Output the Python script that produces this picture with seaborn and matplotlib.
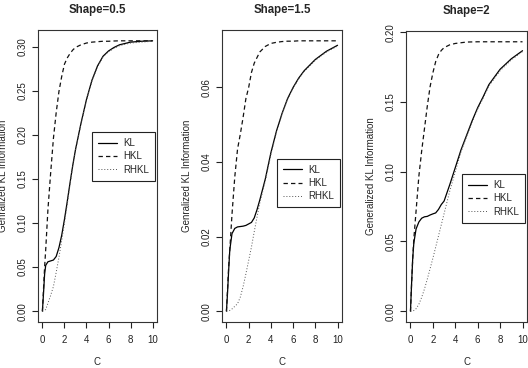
import pandas as pd
import seaborn as sns
import matplotlib.pyplot as plt

# values
c_grid = [0, 0.1, 0.2, 0.3, 0.5, 0.75, 1, 1.25, 1.5, 1.75, 2, 2.25, 2.5, 2.75,
          3, 3.5, 4, 4.5, 5, 5.5, 6, 6.5, 7, 8, 9, 10]

kl_05 = [0, 0.020, 0.042, 0.052, 0.056, 0.057, 0.058, 0.062, 0.072, 0.086, 0.104,
         0.124, 0.145, 0.165, 0.183, 0.213, 0.240, 0.262, 0.278, 0.289, 0.295,
         0.299, 0.302, 0.305, 0.306, 0.3065]
hkl_05 = [0, 0.025, 0.050, 0.070, 0.115, 0.157, 0.196, 0.225, 0.249, 0.266, 0.280,
          0.287, 0.292, 0.296, 0.299, 0.302, 0.304, 0.305, 0.3055, 0.306, 0.306,
          0.3063, 0.3065, 0.3065, 0.3065, 0.3065]
rhkl_05 = [0, 0.0003, 0.001, 0.002, 0.009, 0.018, 0.028, 0.044, 0.061, 0.080, 0.100,
           0.121, 0.143, 0.164, 0.182, 0.212, 0.239, 0.261, 0.277, 0.288, 0.294,
           0.298, 0.301, 0.304, 0.305, 0.306]

kl_15 = [0, 0.005, 0.011, 0.0164, 0.0208, 0.0222, 0.0226, 0.0227, 0.0228, 0.0230,
         0.0234, 0.0238, 0.0250, 0.0272, 0.0298, 0.0355, 0.0425, 0.0483, 0.0530,
         0.0570, 0.0600, 0.0625, 0.0645, 0.0675, 0.0697, 0.0713]
hkl_15 = [0, 0.006, 0.012, 0.0164, 0.026, 0.036, 0.0435, 0.0475, 0.052, 0.057,
          0.060, 0.064, 0.0665, 0.068, 0.0695, 0.071, 0.0718, 0.0721, 0.0723,
          0.0724, 0.0724, 0.0725, 0.0725, 0.0725, 0.0725, 0.0725]
rhkl_15 = [0, 0, 0.0001, 0.0002, 0.0006, 0.0013, 0.002, 0.0038, 0.0066, 0.0100,
           0.0136, 0.0172, 0.0213, 0.0252, 0.0290, 0.0350, 0.0420, 0.0480, 0.0528,
           0.0568, 0.0598, 0.0623, 0.0643, 0.0673, 0.0695, 0.0711]

kl_2 = [0, 0.020, 0.038, 0.049, 0.059, 0.064, 0.0667, 0.0677, 0.068, 0.069, 0.0698,
        0.0705, 0.073, 0.0765, 0.079, 0.0906, 0.103, 0.1155, 0.126, 0.1365, 0.146,
        0.154, 0.1625, 0.1735, 0.181, 0.1868]
hkl_2 = [0, 0.020, 0.038, 0.052, 0.072, 0.097, 0.115, 0.131, 0.147, 0.161, 0.171,
         0.179, 0.184, 0.187, 0.189, 0.191, 0.192, 0.1925, 0.193, 0.1931, 0.1932,
         0.1932, 0.1932, 0.1932, 0.1932, 0.1932]
rhkl_2 = [0, 0, 0.0002, 0.0005, 0.0018, 0.005, 0.010, 0.016, 0.023, 0.0305, 0.038,
          0.046, 0.054, 0.062, 0.070, 0.086, 0.100, 0.114, 0.125, 0.1355, 0.145,
          0.153, 0.1615, 0.1725, 0.1802, 0.1862]

titles = ["Shape=0.5", "Shape=1.5", "Shape=2"]
ylabels = ["Genralized KL Information", "Genralized KL Information",
           "Generalized KL Information"]
yticks = [[0, 0.05, 0.10, 0.15, 0.20, 0.25, 0.30],
          [0, 0.02, 0.04, 0.06],
          [0, 0.05, 0.10, 0.15, 0.20]]
xticks = [0, 2, 4, 6, 8, 10]
series = [(kl_05, hkl_05, rhkl_05), (kl_15, hkl_15, rhkl_15), (kl_2, hkl_2, rhkl_2)]

sns.set_style("ticks")
plt.rcParams['font.family'] = ['Liberation Sans', 'DejaVu Sans']
plt.rcParams['axes.linewidth'] = 0.8
plt.rcParams['xtick.major.width'] = 0.8
plt.rcParams['ytick.major.width'] = 0.8
plt.rcParams['xtick.major.size'] = 4.3
plt.rcParams['ytick.major.size'] = 4.3

fig = plt.figure(figsize=(5.28, 3.68), dpi=100)

W, H = 528, 368
boxes = [(38, 30, 119, 292), (222, 30, 120, 292), (406, 31, 121, 291)]
leg_y = [0.567, 0.476, 0.425]

for i in range(3):
    l, t, w, h = boxes[i]
    ax = fig.add_axes([l / W, 1 - (t + h) / H, w / W, h / H])
    kl, hkl, rhkl = series[i]

    sns.lineplot(x=c_grid, y=kl, color='black', linewidth=0.9, ax=ax, label='KL')
    sns.lineplot(x=c_grid, y=hkl, color='#111111', linewidth=0.9, linestyle=(0, (3.5, 2.5)),
                 ax=ax, label='HKL')
    sns.lineplot(x=c_grid, y=rhkl, color='#555555', linewidth=0.7, linestyle=(0, (1, 2)),
                 ax=ax, label='RHKL')

    ymax = max(kl + hkl + rhkl)
    ax.set_xlim(-0.4, 10.4)
    ax.set_ylim(-0.04 * ymax, ymax * 1.04)
    ax.set_xticks(xticks)
    ax.set_yticks(yticks[i])
    ax.set_yticklabels([f"{v:.2f}" for v in yticks[i]])
    ax.tick_params(axis='both', labelsize=7, colors='#222222', pad=3)
    ax.tick_params(axis='x', pad=5)
    ax.tick_params(axis='y', labelrotation=90)
    for lab in ax.get_yticklabels():
        lab.set_va('center')
    for sp in ax.spines.values():
        sp.set_visible(True)
        sp.set_color('#333333')

    ax.set_title(titles[i], fontsize=8.3, fontweight='bold', pad=12)
    ax.set_xlabel("C", fontsize=7, labelpad=9)
    ax.set_ylabel(ylabels[i], fontsize=7, labelpad=7)

    leg = ax.legend(loc='center right', bbox_to_anchor=(0.985, leg_y[i]), fontsize=7,
                    frameon=True, fancybox=False, edgecolor='#222222', framealpha=1,
                    handlelength=1.9, borderaxespad=0, borderpad=0.6, labelspacing=0.35,
                    handletextpad=0.7)
    leg.get_frame().set_linewidth(0.8)

fig.savefig("out.png", dpi=100)
